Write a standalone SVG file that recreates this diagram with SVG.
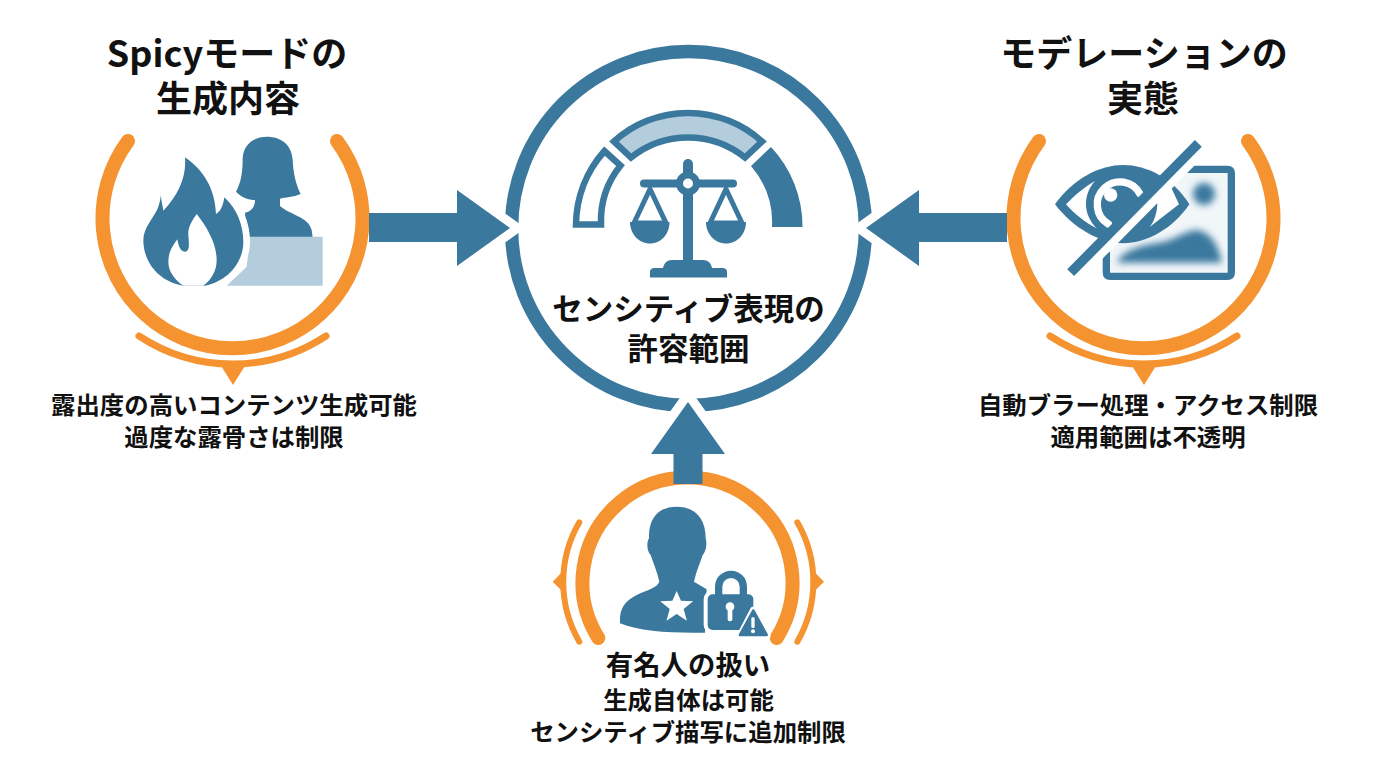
<svg xmlns="http://www.w3.org/2000/svg" width="1376" height="768" viewBox="0 0 1376 768">
<style>
text{font-family:"Noto Sans CJK JP","Noto Sans",sans-serif;font-weight:700;fill:#111;text-anchor:middle}
.t1{font-size:36px}.t2{font-size:30.5px}.t3{font-size:24.4px}.t4{font-size:27.4px}
.ring{fill:none;stroke:#f59331;stroke-width:14;stroke-linecap:round}
.sub{fill:none;stroke:#f59331;stroke-width:7;stroke-linecap:round}
.tip{fill:#f59331}
.b{fill:#3a789e}
.w{fill:#fff}
.halo{fill:#fff;stroke:#fff;stroke-width:18;stroke-linejoin:miter;stroke-miterlimit:8}
.ol{stroke:#3a789e;stroke-width:6.5;stroke-linejoin:miter}
</style>
<defs>
<filter id="blur" x="-30%" y="-30%" width="160%" height="160%"><feGaussianBlur stdDeviation="11"/></filter>
</defs>
<rect width="1376" height="768" fill="#fff"/>

<g id="node-spicy">
<path class="ring" d="M128,141 A130,130 0 1 0 337,141"/>
<path class="sub" d="M139,336 A170,170 0 0 0 326,336"/>
<polygon class="tip" points="218,361 248,361 233,385"/>
<g transform="translate(90,120) scale(0.33333)">
<path class="b" d="M530,50 C575,50 605,75 608,120 C610,160 618,195 632,222 C610,232 585,232 570,236 L570,258 C600,285 655,290 665,330 L668,352 L470,352 L465,278 C480,275 495,265 495,240 C475,240 455,232 438,215 C455,185 458,150 458,115 C460,75 490,50 530,50 Z"/>
<path fill="#b4cddd" d="M410,497 L470,440 L480,350 L698,350 L698,497 Z"/>
<path fill="#fff" stroke="#fff" stroke-width="40" d="M285,112 C340,150 375,205 378,282 C392,275 400,255 403,232 C440,265 460,315 460,365 C460,430 410,485 345,497 L280,497 C205,485 160,425 160,360 C160,320 195,290 205,260 C210,245 212,235 212,225 C215,245 218,260 220,272 C265,225 290,170 285,112 Z"/>
<path class="b" d="M285,112 C340,150 375,205 378,282 C392,275 400,255 403,232 C440,265 460,315 460,365 C460,430 410,485 345,497 L280,497 C205,485 160,425 160,360 C160,320 195,290 205,260 C210,245 212,235 212,225 C215,245 218,260 220,272 C265,225 290,170 285,112 Z"/>
<path class="w" d="M320,282 C350,320 380,370 380,420 C380,455 362,480 340,497 L280,497 C255,480 235,455 235,425 C235,395 250,375 262,358 C265,375 270,395 285,395 C300,395 297,370 295,345 C293,320 308,300 320,282 Z"/>
</g>
<text class="t1" x="227" y="67">Spicyモードの</text>
<text class="t1" x="228" y="112">生成内容</text>
<text class="t3" x="234" y="414">露出度の高いコンテンツ生成可能</text>
<text class="t3" x="234" y="446">過度な露骨さは制限</text>
</g>

<g id="node-moderation">
<path class="ring" d="M1039,141 A130,130 0 1 0 1248,141"/>
<path class="sub" d="M1050,336 A170,170 0 0 0 1237,336"/>
<polygon class="tip" points="1129,361 1159,361 1144,385"/>
<g transform="translate(1000,120) scale(0.33333)">
<path fill="#f1f6f9" d="M560,159 L683,159 L683,458 L330,458 L330,395 Z"/>
<path fill="none" stroke="#3a789e" stroke-width="22" d="M560,148 L682,148 Q694,148 694,160 L694,457 Q694,469 682,469 L331,469 Q319,469 319,457 L319,395"/>
<g filter="url(#blur)">
<circle class="b" cx="612" cy="222" r="33"/>
<path class="b" d="M352,428 C360,395 430,372 480,368 C520,362 560,330 590,330 C635,335 660,385 665,428 Z"/>
</g>
<path class="b" d="M165,253 C220,175 300,135 370,135 C440,135 520,175 568,253 C520,325 440,370 370,370 C300,370 220,325 165,253 Z"/>
<path class="w" d="M198,253 C225,225 255,200 285,183 C265,205 258,230 258,253 C258,280 270,305 290,325 C255,308 225,283 198,253 Z"/>
<path fill="none" stroke="#fff" stroke-width="22" stroke-linecap="round" d="M420,222 A68,68 0 1 0 325,312"/>
<circle class="w" cx="332" cy="225" r="20"/>
<line x1="230" y1="476" x2="613" y2="88" stroke="#fff" stroke-width="26"/>
<path class="w" d="M510,195 L537,253 L448,322 C462,305 472,280 472,245 Z"/>
<line x1="212" y1="458" x2="595" y2="70" stroke="#3a789e" stroke-width="29"/>
</g>
<text class="t1" x="1144" y="67">モデレーションの</text>
<text class="t1" x="1143" y="112">実態</text>
<text class="t3" x="1148" y="414">自動ブラー処理・アクセス制限</text>
<text class="t3" x="1148" y="446">適用範囲は不透明</text>
</g>

<g id="node-center">
<circle cx="688.5" cy="228.5" r="177" fill="none" stroke="#3a789e" stroke-width="13.5"/>
<path fill="#fff" class="ol" d="M576,224.5 A112,112 0 0 1 604.5,151 L620.5,165.5 A89,89 0 0 0 601,224.5 Z"/>
<path fill="#b4cddd" class="ol" d="M614,141.5 A110,110 0 0 1 762,141.5 L745,157.5 A91,91 0 0 0 631,157.5 Z"/>
<path class="b" d="M772,227 A86,86 0 0 0 751,166 L771,147 A116,116 0 0 1 802.5,227 Z"/>
<rect class="b" x="683" y="159" width="10" height="105" rx="5"/>
<rect class="b" x="640" y="179.5" width="97" height="8" rx="4"/>
<circle class="b" cx="688" cy="183.5" r="12"/>
<circle class="w" cx="688" cy="183.5" r="5"/>
<path fill="none" stroke="#3a789e" stroke-width="5" stroke-linejoin="round" d="M650,189 L634,223 L666,223 Z"/>
<path fill="none" stroke="#3a789e" stroke-width="5" stroke-linejoin="round" d="M726,189 L710,223 L742,223 Z"/>
<path class="b" d="M630,222 L669.5,222 C669.5,235 660,243.5 650,243.5 C640,243.5 630,235 630,222 Z"/>
<path class="b" d="M706,222 L746,222 C746,235 736,243.5 726,243.5 C716,243.5 706,235 706,222 Z"/>
<path class="b" d="M650,277.5 L650,272 C650,269 652,268 655,268 L663,268 C664,263 667,260 672,260 L703,260 C708,260 711,263 712,268 L722,268 C725,268 727,269 727,272 L727,277.5 Z"/>
<text class="t2" x="688.5" y="320">センシティブ表現の</text>
<text class="t2" x="688.5" y="360">許容範囲</text>
</g>

<g id="node-celebrity">
<path class="ring" d="M598.3,638 A105,105 0 1 1 776.7,638"/>
<path class="sub" style="stroke-width:6" d="M579.3,522.3 A119,119 0 0 0 579.3,641.7"/>
<path class="sub" style="stroke-width:6" d="M797.3,522.3 A119,119 0 0 1 797.3,641.7"/>
<polygon class="tip" points="552.7,581.7 563,571 566,581.7 563,592"/>
<polygon class="tip" points="824,581.7 813.5,571 810.5,581.7 813.5,592"/>
<g transform="translate(540,460) scale(0.33333)">
<path class="b" d="M410,140 C465,140 497,175 497,235 C502,250 498,275 488,285 C480,310 468,335 462,365 L500,388 L495,518 C400,520 300,515 240,490 C238,450 250,425 290,405 C320,390 350,385 358,365 C352,335 340,310 332,285 C322,275 318,250 327,235 C325,175 355,140 410,140 Z"/>
<polygon class="w" points="410,393 422.9,422.2 459.5,424 430.9,446.8 440.6,482 410,462 379.4,482 389.1,446.8 360.5,424 397.1,422.2"/>
<rect x="503" y="403" width="137" height="107" rx="15" fill="#fff" stroke="#fff" stroke-width="24"/>
<path fill="none" stroke="#fff" stroke-width="44" d="M536,405 L536,380 A36,36 0 0 1 610,380 L610,405"/>
<path fill="none" stroke="#3a789e" stroke-width="22" d="M536,405 L536,380 A36,36 0 0 1 610,380 L610,405"/>
<rect class="b" x="503" y="403" width="137" height="107" rx="15"/>
<circle class="w" cx="570" cy="440" r="13"/>
<rect class="w" x="563" y="442" width="14" height="42" rx="6"/>
<path class="b" stroke="#fff" stroke-width="20" stroke-linejoin="round" d="M640,450 L600,527 L682,527 Z"/>
<path class="b" stroke="#3a789e" stroke-width="8" stroke-linejoin="round" d="M640,452 L600,525 L680,525 Z"/>
<rect class="w" x="634" y="472" width="10" height="32" rx="4"/>
<circle class="w" cx="639" cy="514" r="6"/>
</g>
<text class="t4" x="688" y="675">有名人の扱い</text>
<text class="t3" x="688.5" y="709">生成自体は可能</text>
<text class="t3" x="688" y="741">センシティブ描写に追加制限</text>
</g>

<g id="connectors">
<polygon class="halo" points="457,190 510,228 457,266"/>
<polygon class="b" points="369,213 457,213 457,190 510,228 457,266 457,242 369,242"/>
<polygon class="halo" points="919,190 866,228 919,266"/>
<polygon class="b" points="1007,213 919,213 919,190 866,228 919,266 919,242 1007,242"/>
<polygon class="halo" points="651,454 688,402 725,454"/>
<polygon class="b" points="673.5,484 673.5,454 651,454 688,402 725,454 702.5,454 702.5,484"/>
</g>
</svg>
